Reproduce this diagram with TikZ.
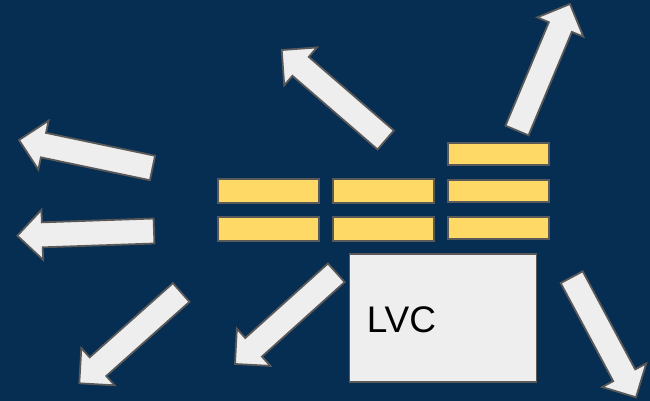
\documentclass[tikz,border=0pt]{standalone}
\usepackage{fontspec}
\setmainfont{Liberation Sans}
\usetikzlibrary{calc}
\definecolor{bgnavy}{HTML}{062D52}
\definecolor{baryellow}{HTML}{FFD966}
\definecolor{edgegray}{HTML}{595959}
\definecolor{lightfill}{HTML}{EEEEEE}
\tikzset{
  bar/.style={draw=edgegray, fill=baryellow, line width=1.8pt, inner sep=0pt, minimum width=101pt, minimum height=23pt},
  lvcbox/.style={draw=edgegray, fill=lightfill, line width=1.8pt, inner sep=0pt, minimum width=187pt, minimum height=128pt},
  arrowshape/.style={draw=edgegray, fill=lightfill, line width=1.8pt, line join=miter},
}
% #1 name, #2 tail centre, #3 tip
\newcommand{\blockarrow}[3]{%
  \coordinate (#1-t) at #2;
  \coordinate (#1-p) at #3;
  \coordinate (#1-h) at ($(#1-p)!25pt!(#1-t)$);
  \draw[arrowshape] ($(#1-t)!12.5pt!90:(#1-p)$) -- ($(#1-h)!12.5pt!90:(#1-p)$)
    -- ($(#1-h)!25pt!90:(#1-p)$) -- (#1-p) -- ($(#1-h)!25pt!-90:(#1-p)$)
    -- ($(#1-h)!12.5pt!-90:(#1-p)$) -- ($(#1-t)!12.5pt!-90:(#1-p)$) -- cycle;
}
\begin{document}
\begin{tikzpicture}[x=1pt,y=-1pt]
\fill[bgnavy] (0,0) rectangle (650,401);
\useasboundingbox (0,0) rectangle (650,401);
% arrows
\blockarrow{a1}{(152.5,168)}{(19,140)}
\blockarrow{a2}{(154,231)}{(17.3,235.7)}
\blockarrow{a3}{(385.7,140)}{(281.7,50)}
\blockarrow{a4}{(517,130.5)}{(570,4)}
\blockarrow{a5}{(571.7,277.2)}{(636,397.3)}
\blockarrow{a6}{(181.2,292.5)}{(79.3,383.3)}
\blockarrow{a7}{(336.3,272.8)}{(235,364)}
% bars
\node[bar, minimum height=24pt] (b11) at (268.8,191.3) {};
\node[bar, minimum height=24pt] (b12) at (268.8,228.7) {};
\node[bar, minimum height=24pt] (b21) at (383.7,191.3) {};
\node[bar, minimum height=24pt] (b22) at (383.7,228.7) {};
\node[bar, minimum height=22pt] (b30) at (498.8,154.3) {};
\node[bar, minimum height=22pt] (b31) at (498.8,191) {};
\node[bar, minimum height=22pt] (b32) at (498.8,228.3) {};
% LVC box
\node[lvcbox] (lvc) at (443,318.3) {};
\node[anchor=west, inner sep=0pt, font=\fontsize{37}{40}\selectfont] (lvctext) at (366.6,319.3) {LVC};
\end{tikzpicture}
\end{document}
